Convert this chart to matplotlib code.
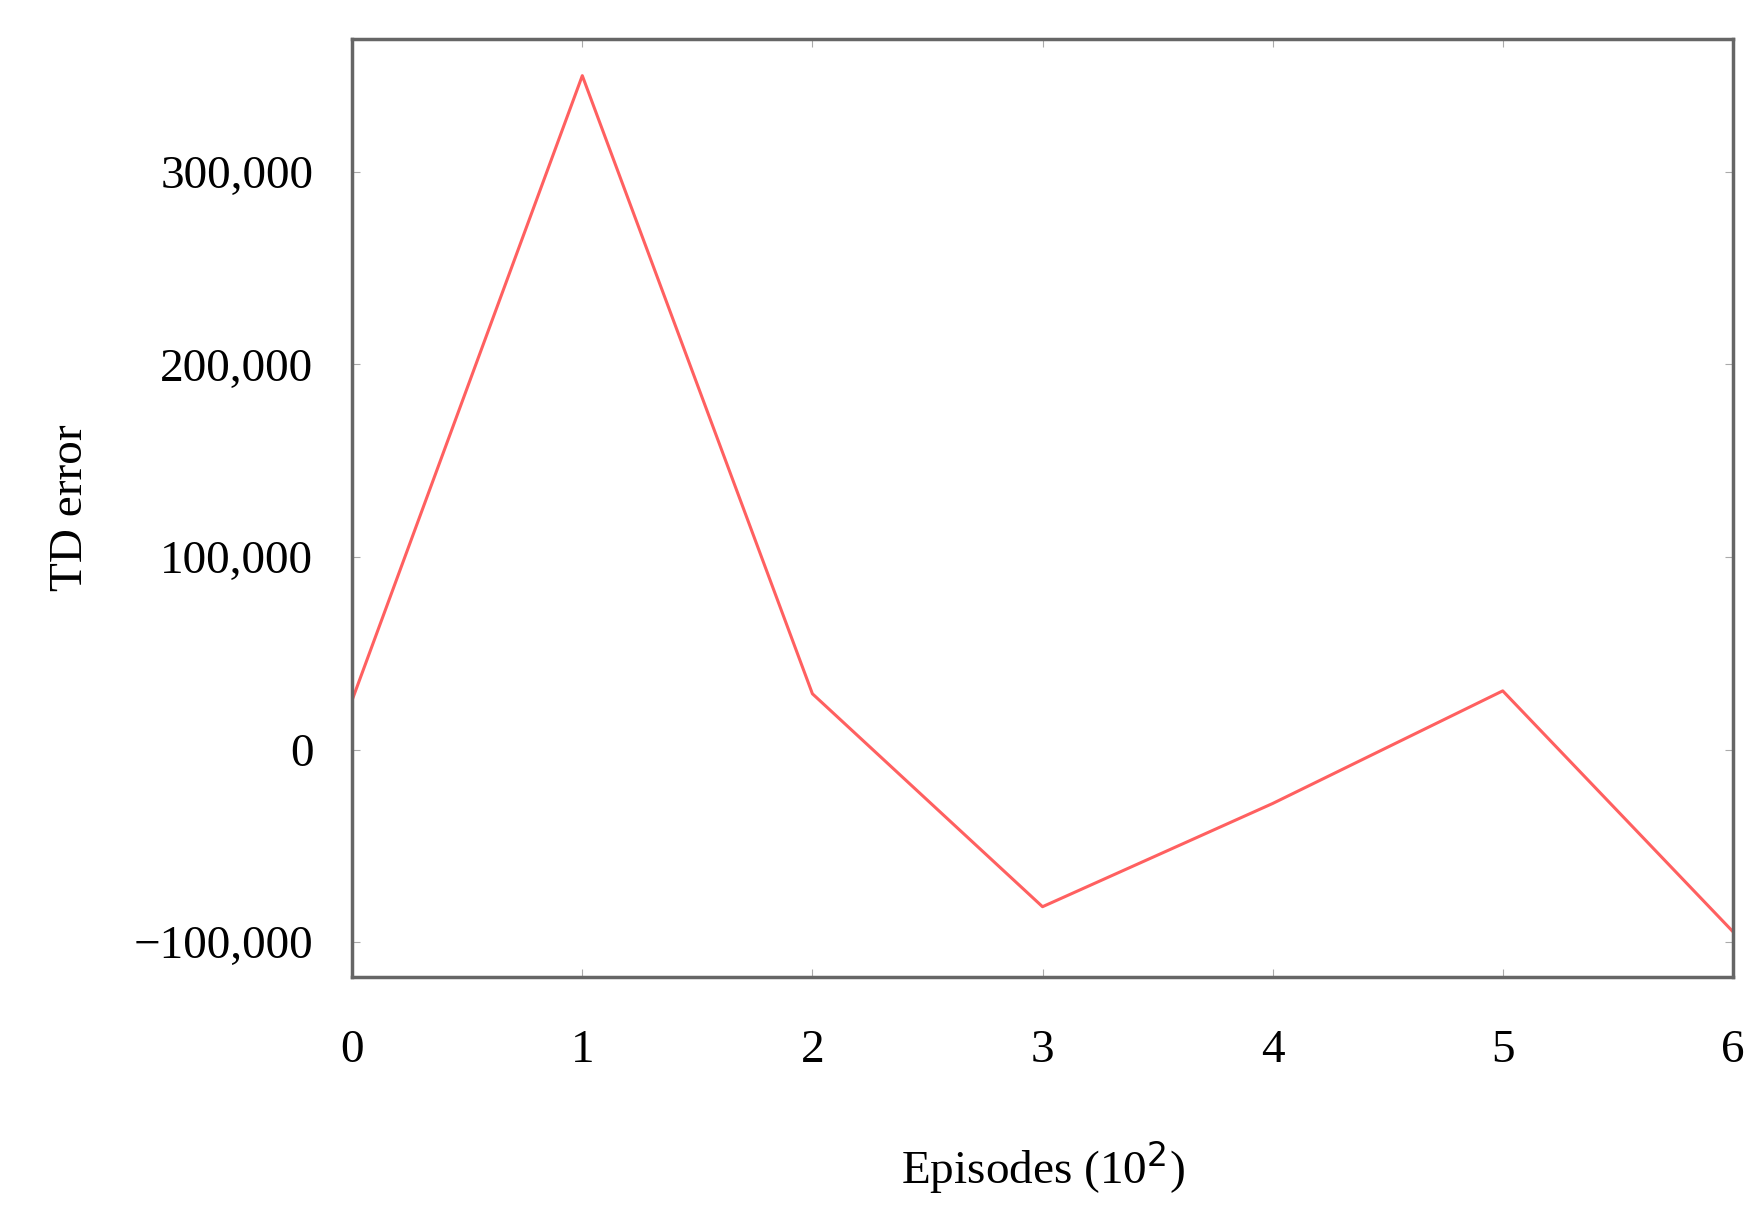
import matplotlib
matplotlib.use("Agg")
import matplotlib.pyplot as plt
from matplotlib.ticker import FuncFormatter

episodes = [0, 1, 2, 3, 4, 5, 6]
td_error = [25800, 350000, 29000, -81600, -28000, 30500, -94500]
yticks = [-100000, 0, 100000, 200000, 300000]

plt.rcParams['font.family'] = ['Liberation Serif', 'DejaVu Serif']
fig = plt.figure(figsize=(17.61, 12.21), dpi=100)
ax = fig.add_axes([0.200, 0.200, 0.784, 0.768])
ax.plot(episodes, td_error, color='#ff6060', lw=2.2)
ax.set_xlim(0, 6)
ax.set_ylim(-118000, 369000)
ax.set_xticks(episodes)
ax.set_yticks(yticks)
ax.yaxis.set_major_formatter(FuncFormatter(lambda v, p: f"{int(v):,}".replace('-', '\u2212')))
ax.tick_params(direction='in', length=6, color='#aaaaaa', top=True, right=True, labelsize=34)
ax.tick_params(axis='x', pad=38)
ax.tick_params(axis='y', pad=28)
for s in ax.spines.values():
    s.set_color('#666666')
    s.set_linewidth(2.5)
ax.set_xlabel('Episodes (10$^2$)', fontsize=34, labelpad=48)
ax.set_ylabel('TD error', fontsize=34, labelpad=30)
fig.savefig('out.png', dpi=100)
